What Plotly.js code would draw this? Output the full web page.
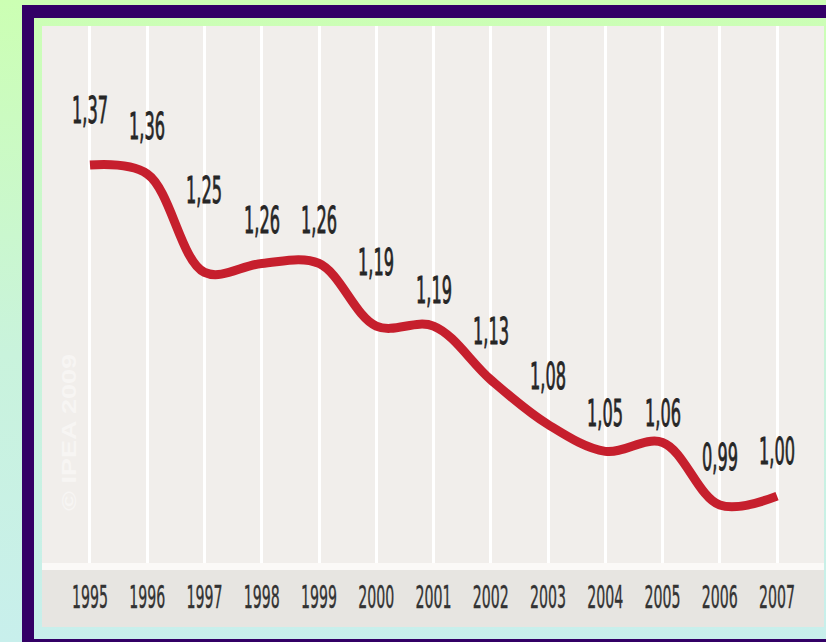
<!DOCTYPE html>
<html>
<head>
<meta charset="utf-8">
<script src="https://cdn.plot.ly/plotly-3.0.1.min.js"></script>
<style>
  html, body { margin: 0; padding: 0; width: 826px; height: 642px; overflow: hidden; }
  body { background: linear-gradient(to bottom, #ccffb3 0%, #c9f3dc 55%, #c8efec 100%); position: relative; }
  .bar { position: absolute; background: #330066; }
  #chart { position: absolute; left: 0; top: 0; width: 826px; height: 642px; }
</style>
</head>
<body>
<div class="bar" style="left:22px; top:5px; width:804px; height:13px;"></div>
<div class="bar" style="left:22px; top:5px; width:12px; height:637px;"></div>
<div class="bar" style="left:22px; top:639px; width:804px; height:3px;"></div>
<div id="chart"></div>
<script>
// Data
const years = [1995, 1996, 1997, 1998, 1999, 2000, 2001, 2002, 2003, 2004, 2005, 2006, 2007];
const values = [1.37, 1.36, 1.25, 1.26, 1.26, 1.19, 1.19, 1.13, 1.08, 1.05, 1.06, 0.99, 1.00];
const valueLabels = ["1,37", "1,36", "1,25", "1,26", "1,26", "1,19", "1,19", "1,13", "1,08", "1,05", "1,06", "0,99", "1,00"];
const yearLabels = ["1995", "1996", "1997", "1998", "1999", "2000", "2001", "2002", "2003", "2004", "2005", "2006", "2007"];

// Label vertical offsets (pixels above the line), styling only
const labelLift = [55, 48, 82, 43, 43, 64, 36, 49, 49, 38, 29, 48, 45];

const fontFam = '"DejaVu Sans Condensed", "Liberation Sans Narrow", sans-serif';

const annotations = years.map((yr, i) => ({
  x: yr, y: values[i], xref: 'x', yref: 'y',
  text: valueLabels[i], showarrow: false,
  xanchor: 'center', yanchor: 'middle',
  yshift: labelLift[i],
  font: { family: fontFam, size: 26, color: '#262626' }
}));

annotations.push({
  xref: 'paper', yref: 'paper', x: 0.0345, y: 0.244,
  xanchor: 'center', yanchor: 'middle',
  text: '© IPEA 2009', showarrow: false, textangle: -90,
  font: { family: 'Liberation Sans, sans-serif', size: 27, color: 'rgba(255,255,255,0.45)', weight: 'bold' }
});

const trace = {
  x: years, y: values, type: 'scatter', mode: 'lines',
  line: { shape: 'spline', smoothing: 1, color: '#c61f2d', width: 9 },
  hoverinfo: 'skip'
};

const H = 537;
const layout = {
  width: 826, height: 642,
  margin: { l: 42, r: 2, t: 26, b: 79 },
  paper_bgcolor: 'rgba(0,0,0,0)',
  plot_bgcolor: '#f1eeeb',
  showlegend: false,
  xaxis: {
    range: [1994.162, 2007.82],
    tickvals: years, ticktext: yearLabels,
    showgrid: true, gridcolor: '#ffffff', gridwidth: 3,
    zeroline: false, showline: false, ticks: '',
    ticklabelstandoff: 17,
    tickfont: { family: fontFam, size: 24, color: '#333333' },
    fixedrange: true
  },
  yaxis: {
    range: [0.9252, 1.5254],
    showgrid: false, zeroline: false, showticklabels: false, showline: false, ticks: '',
    fixedrange: true
  },
  shapes: [
    { type: 'rect', xref: 'paper', yref: 'paper', x0: 0, x1: 1, y0: 0, y1: -7 / H,
      fillcolor: '#fbf9f7', line: { width: 0 }, layer: 'below' },
    { type: 'rect', xref: 'paper', yref: 'paper', x0: 0, x1: 1, y0: -7 / H, y1: -64 / H,
      fillcolor: '#e7e5e1', line: { width: 0 }, layer: 'below' }
  ],
  annotations: annotations
};

function squeeze(el, sx, sy) {
  const bb = el.getBBox();
  const cx = bb.x + bb.width / 2, cy = bb.y + bb.height / 2;
  const t = el.getAttribute('transform') || '';
  el.setAttribute('transform', t + ` translate(${cx},${cy}) scale(${sx},${sy}) translate(${-cx},${-cy})`);
}

Plotly.newPlot('chart', [trace], layout, { displayModeBar: false, staticPlot: true }).then(gd => {
  // narrow, tall lettering like the original graphic
  const labels = Array.from(gd.querySelectorAll('.annotation-text')).filter(t => t.textContent.indexOf('IPEA') < 0);
  if (labels.length) {
    const w = labels[0].getBBox().width;
    const sx = 36 / w, sy = 1.4;
    labels.forEach(el => {
      squeeze(el, sx, sy);
      el.style.stroke = '#262626';
      el.style.strokeWidth = '0.6px';
    });
  }
  const ticks = Array.from(gd.querySelectorAll('.xtick text'));
  if (ticks.length) {
    const w = ticks[0].getBBox().width;
    const sx = 36 / w, sy = 1.36;
    ticks.forEach(el => {
      squeeze(el, sx, sy);
      el.style.stroke = '#333333';
      el.style.strokeWidth = '0.3px';
    });
  }
  const wm = Array.from(gd.querySelectorAll('.annotation-text')).filter(t => t.textContent.indexOf('IPEA') >= 0);
  wm.forEach(el => squeeze(el, 1, 0.75));
});
</script>
</body>
</html>
